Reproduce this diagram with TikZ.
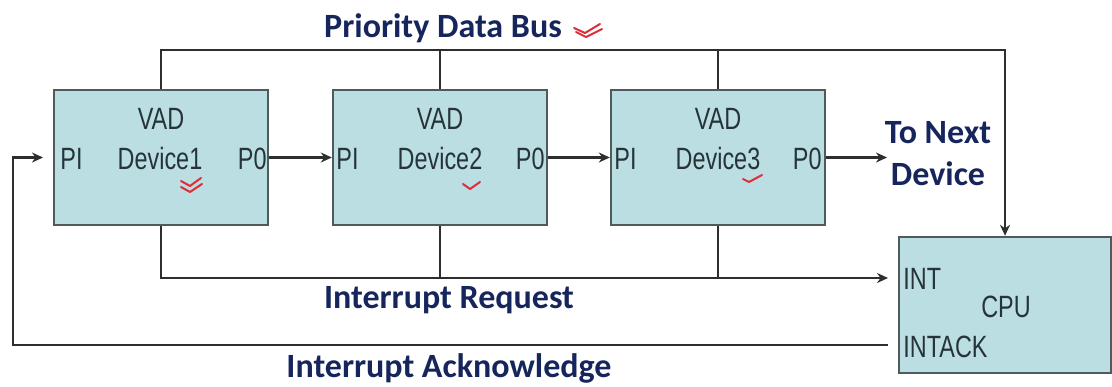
\documentclass[tikz,border=0pt]{standalone}
\usepackage{xcolor}
\usepackage{fontspec}
\newfontfamily\narrowfont{Liberation Sans}[FakeStretch=0.76]
\newfontfamily\labelfont{Carlito}
\usepackage{tikz}
\usetikzlibrary{arrows.meta,positioning,calc}

\definecolor{boxfill}{RGB}{187,222,227}
\definecolor{boxline}{RGB}{80,90,92}
\definecolor{navy}{RGB}{22,38,92}
\definecolor{inktext}{RGB}{38,52,58}
\definecolor{penred}{RGB}{225,45,55}

\tikzset{
  unit/.style={draw=boxline, line width=1.2pt, fill=boxfill, inner sep=0pt},
  port/.style={font=\narrowfont\fontsize{15.4}{18}\selectfont, text=inktext, inner sep=0pt},
  busname/.style={font=\labelfont\bfseries\fontsize{17}{21}\selectfont, text=navy, inner sep=0pt, align=center},
  wire/.style={draw=black!82, line width=1.2pt},
  arr/.style={wire, -{Stealth[length=5.5pt,width=5pt]}},
  pentick/.style={draw=penred, line width=1pt, line cap=round, line join=round}
}

\begin{document}
\begin{tikzpicture}[x=0.5pt,y=-0.5pt]
\useasboundingbox (0,0) rectangle (1112,386);

% devices in the daisy chain
\node[unit, minimum width=107pt, minimum height=67.5pt] (dev1) at (161,157.5) {};
\node[unit, minimum width=107pt, minimum height=67.5pt] (dev2) at (440,157.5) {};
\node[unit, minimum width=107pt, minimum height=67.5pt] (dev3) at (718,157.5) {};
\node[unit, minimum width=106pt, minimum height=68pt] (cpu) at (1005,305) {};

\node[port, anchor=base] (vad1) at (161,129) {VAD};
\node[port, anchor=base west] (pi1) at (60,169) {PI};
\node[port, anchor=base] (name1) at (160,169) {Device1};
\node[port, anchor=base east] (po1) at (267,169) {P0};

\node[port, anchor=base] (vad2) at (440,129) {VAD};
\node[port, anchor=base west] (pi2) at (336,169) {PI};
\node[port, anchor=base] (name2) at (440,169) {Device2};
\node[port, anchor=base east] (po2) at (545,169) {P0};

\node[port, anchor=base] (vad3) at (718,129) {VAD};
\node[port, anchor=base west] (pi3) at (614,169) {PI};
\node[port, anchor=base] (name3) at (718,169) {Device3};
\node[port, anchor=base east] (po3) at (822,169) {P0};

\node[port, anchor=base west] (int) at (903,289) {INT};
\node[port, anchor=base] (cpuname) at (1006,317) {CPU};
\node[port, anchor=base west] (intack) at (903,357) {INTACK};

% bus names
\node[busname, anchor=base] (pdb) at (443,37) {Priority Data Bus};
\node[busname, anchor=base] (irqname) at (449,308) {Interrupt Request};
\node[busname, anchor=base] (ackname) at (449,377) {Interrupt Acknowledge};
\node[busname] (next) at (938,154) {To Next\\Device};

% wire ends
\coordinate (busTop) at (1005,50);
\coordinate (irq) at (888,278);
\coordinate (ack) at (888,345);
\coordinate (piIn) at (43,157.5);
\coordinate (nextDev) at (887,157.5);

% priority data bus
\draw[arr] (dev1.north) |- (busTop) -- (cpu.north);
\draw[wire] (dev2.north) -- (dev2.north |- busTop);
\draw[wire] (dev3.north) -- (dev3.north |- busTop);

% interrupt request
\draw[arr] (dev1.south) |- (irq);
\draw[wire] (dev2.south) -- (dev2.south |- irq);
\draw[wire] (dev3.south) -- (dev3.south |- irq);

% interrupt acknowledge, passed along the chain
\draw[arr] (ack) -| ([xshift=-15pt]piIn) -- (piIn);
\draw[arr] (dev1.east) -- (dev2.west);
\draw[arr] (dev2.east) -- (dev3.west);
\draw[arr] (dev3.east) -- (nextDev);

% pen marks
\draw[pentick] (574,28) -- (585,33) -- (600,24);
\draw[pentick] (576,32) -- (586,37) -- (602,29);
\draw[pentick] (181,181) -- (190,186) -- (201,178);
\draw[pentick] (181,187) -- (190,192) -- (202,184);
\draw[pentick] (463,184) -- (470,189) -- (480,182);
\draw[pentick] (743,179) -- (749,182) -- (762,175);
\end{tikzpicture}
\end{document}
